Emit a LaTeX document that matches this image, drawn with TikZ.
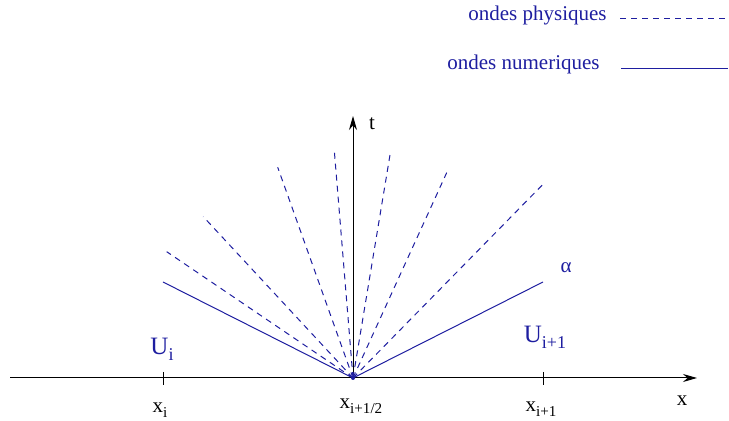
\documentclass[tikz,border=0pt]{standalone}
\usepackage{fontspec}
\setmainfont{Liberation Serif}
\usetikzlibrary{arrows.meta}
\definecolor{wave}{RGB}{30,30,160}
\newcommand{\lowsub}[1]{\raisebox{-0.55ex}{\fontsize{0.72em}{1em}\selectfont #1}}
\begin{document}
\begin{tikzpicture}[x=0.5pt,y=-0.5pt,
  lbl/.style={inner sep=0pt,font=\fontsize{10.5}{12}\selectfont},
  wlbl/.style={lbl,text=wave},
  phys/.style={draw=wave,line width=0.5pt,dash pattern=on 3pt off 2.5pt},
  num/.style={draw=wave,line width=0.5pt},
  axis/.style={draw=black,line width=0.5pt,-{Stealth[length=7pt,width=4pt]}},
  tick/.style={draw=black,line width=0.5pt}]
\useasboundingbox (0,0) rectangle (729,421);
% legend
\node[wlbl,anchor=east] (lp) at (607,15) {ondes physiques};
\node[wlbl,anchor=east] (ln) at (600,64) {ondes numeriques};
\coordinate (lpa) at (620,19);
\coordinate (lpb) at (728,19);
\coordinate (lna) at (621,69);
\coordinate (lnb) at (728,69);
\draw[phys] (lpa) -- (lpb);
\draw[num] (lna) -- (lnb);
% axes
\coordinate (O) at (353,378);
\coordinate (xs) at (10,378);
\coordinate (xe) at (697,378);
\coordinate (te) at (353,116);
\draw[axis] (xs) -- (xe);
\draw[axis] (O) -- (te);
\node[lbl] (tl) at (372,124) {t};
\node[lbl] (xl) at (682,401) {x};
% ticks
\coordinate (ti1) at (163,372); \coordinate (ti2) at (163,385);
\coordinate (tj1) at (543,372); \coordinate (tj2) at (543,385);
\draw[tick] (ti1) -- (ti2);
\draw[tick] (tj1) -- (tj2);
\node[lbl] (xi) at (160,410) {x\lowsub{i}};
\node[lbl] (xh) at (361,406) {x\lowsub{i+1/2}};
\node[lbl] (xj) at (541,409) {x\lowsub{i+1}};
% numerical waves
\coordinate (nL) at (163,282);
\coordinate (nR) at (543,282);
\draw[num] (O) -- (nL);
\draw[num] (O) -- (nR);
% physical waves
\coordinate (p1) at (166.7,251.7);
\coordinate (p2) at (203.3,216.7);
\coordinate (p3) at (277.7,167.3);
\coordinate (p4) at (334.3,150.7);
\coordinate (p5) at (390.7,150.7);
\coordinate (p6) at (446.7,172.7);
\coordinate (p7) at (543.3,184);
\foreach \p in {p1,p2,p3,p4,p5,p6,p7} \draw[phys] (O) -- (\p);
\fill[wave] (O) circle (2);
% labels
\node[wlbl,font=\fontsize{12.5}{14}\selectfont] (Ui) at (162,349) {U\lowsub{i}};
\node[wlbl,font=\fontsize{12.5}{14}\selectfont] (Uj) at (545,337) {U\lowsub{i+1}};
\node[wlbl] (al) at (566,268) {α};
\end{tikzpicture}
\end{document}
